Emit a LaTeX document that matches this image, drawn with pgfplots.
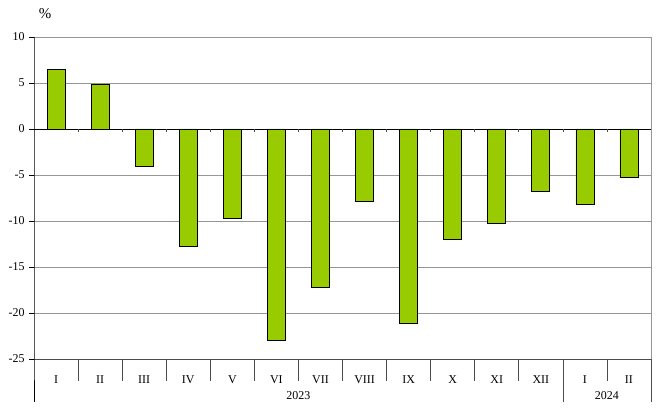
\documentclass[border=0pt]{standalone}
\usepackage{fontspec}
\setmainfont{Liberation Serif}
\usepackage{pgfplots}
\pgfplotsset{compat=1.18}
\definecolor{bargreen}{RGB}{153,204,0}
\definecolor{gridgray}{RGB}{150,150,150}
\newcommand{\sepline}[3]{\draw[black!70, line width=#3] (axis cs:#1,-25) -- ([yshift=-#2]axis cs:#1,-25);}
\newcommand{\zerotick}[1]{\draw[black!70, line width=0.6pt] (axis cs:#1,0) -- ([yshift=-3bp]axis cs:#1,0);}
\begin{document}
\begin{tikzpicture}
\path[use as bounding box] (0,0) rectangle (660bp,418bp);
\begin{axis}[
 at={(34bp,59bp)}, anchor=south west,
 scale only axis, width=617bp, height=322bp,
 xmin=-0.5, xmax=13.5, ymin=-25, ymax=10,
 ytick={-25,-20,...,10}, yticklabels={-25,-20,-15,-10,-5,0,5,10},
 ytick pos=left,
 xtick={0,...,13},
 xticklabels={I,II,III,IV,V,VI,VII,VIII,IX,X,XI,XII,I,II},
 x tick style={draw=none},
 xticklabel style={anchor=center, yshift=-16bp, font=\fontsize{12}{14}\selectfont},
 axis line style={draw=none},
 ymajorgrids, grid style={gridgray, line width=0.7pt},
 y tick style={black, line width=0.6pt},
 major tick length=5bp,
 tick align=outside,
 yticklabel style={font=\fontsize{12}{14}\selectfont, xshift=-1bp},
 clip=false,
 ybar, bar width=18bp,
]
\draw[gridgray, line width=0.7pt] (rel axis cs:0,1) -- (rel axis cs:1,1) -- (rel axis cs:1,0);
\addplot[fill=bargreen, draw=black, line width=0.7pt] coordinates {
(0,6.5) (1,4.9) (2,-4.1) (3,-12.8) (4,-9.7) (5,-23.0) (6,-17.2)
(7,-7.9) (8,-21.1) (9,-12.0) (10,-10.3) (11,-6.8) (12,-8.2) (13,-5.3)};
\draw[black, line width=0.7pt] (axis cs:-0.5,0) -- (axis cs:13.5,0);
\draw[black!70, line width=0.7pt] (axis cs:-0.5,-25) -- (axis cs:13.5,-25);
\draw[black, line width=0.7pt] (rel axis cs:0,1) -- (rel axis cs:0,0) -- ([yshift=-43bp]rel axis cs:0,0);
\sepline{13.5}{43bp}{0.7pt}
\sepline{11.5}{43bp}{0.7pt}
\sepline{0.5}{22bp}{0.7pt}
\sepline{1.5}{22bp}{0.7pt}
\sepline{2.5}{22bp}{0.7pt}
\sepline{3.5}{22bp}{0.7pt}
\sepline{4.5}{22bp}{0.7pt}
\sepline{5.5}{22bp}{0.7pt}
\sepline{6.5}{22bp}{0.7pt}
\sepline{7.5}{22bp}{0.7pt}
\sepline{8.5}{22bp}{0.7pt}
\sepline{9.5}{22bp}{0.7pt}
\sepline{10.5}{22bp}{0.7pt}
\sepline{12.5}{22bp}{0.7pt}
\zerotick{0.5}\zerotick{1.5}\zerotick{2.5}\zerotick{3.5}\zerotick{4.5}
\zerotick{5.5}\zerotick{6.5}\zerotick{7.5}\zerotick{8.5}\zerotick{9.5}
\zerotick{10.5}\zerotick{11.5}\zerotick{12.5}
\node[font=\fontsize{12}{14}\selectfont] at ([yshift=-37bp]axis cs:5.5,-25) {2023};
\node[font=\fontsize{12}{14}\selectfont] at ([yshift=-37bp]axis cs:12.5,-25) {2024};
\node[font=\fontsize{15}{17}\selectfont] at ([xshift=11bp,yshift=23bp]rel axis cs:0,1) {\%};
\end{axis}
\end{tikzpicture}
\end{document}
